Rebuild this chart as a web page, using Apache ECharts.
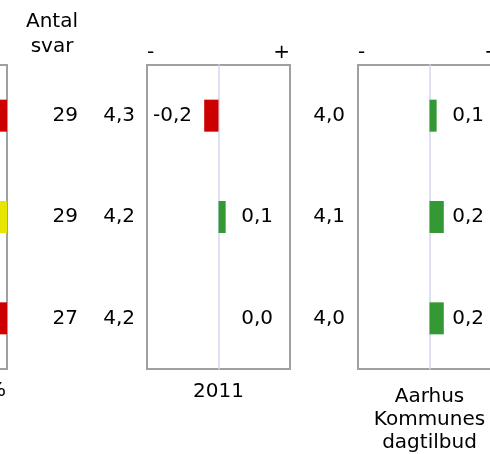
<!DOCTYPE html>
<html>
<head>
<meta charset="utf-8">
<script src="https://cdn.jsdelivr.net/npm/echarts@6/dist/echarts.min.js"></script>
<style>
  html, body { margin: 0; padding: 0; background: #fff; }
  #main { width: 490px; height: 454px; }
</style>
</head>
<body>
<div id="main"></div>
<script>
// data
const rows = ['Spm 1', 'Spm 2', 'Spm 3'];
const counts = [29, 29, 27];
const score2012 = [4.3, 4.2, 4.2];
const diff2011 = [-0.2, 0.1, 0.0];
const scoreAarhus = [4.0, 4.1, 4.0];
const diffAarhus = [0.1, 0.2, 0.2];
// left panel (only the right end is visible)
const shareGreen = [55, 60, 50];
const shareYellow = [30, 40, 35];
const shareRed = [15, 0, 15];
const panelNames = ['Andel i %', '2011', 'Aarhus\nKommunes\ndagtilbud'];

const FONT = 'DejaVu Sans, Verdana, sans-serif';
const frame = '#a0a0a0';
const zeroColor = '#d6d6f2';
const RED = '#cc0000', GREEN = '#349934', YELLOW = '#e6e600';

function fmt(v) { return v.toFixed(1).replace('.', ','); }

function diffBar(vals, xi, yi) {
  return {
    type: 'bar', xAxisIndex: xi, yAxisIndex: yi, barWidth: 32, barGap: '-100%',
    data: vals.map(v => ({ value: v, itemStyle: { color: v < 0 ? RED : GREEN } })),
    silent: true
  };
}
// transparent bar that carries the value label at a fixed place in the panel
function labelBar(vals, xi, yi) {
  return {
    type: 'bar', xAxisIndex: xi, yAxisIndex: yi, barWidth: 32, barGap: '-100%',
    silent: true,
    data: vals.map(v => ({
      value: v < 0 ? -1 : 1,
      itemStyle: { color: 'rgba(0,0,0,0)' },
      label: {
        show: true,
        position: v < 0 ? 'insideLeft' : 'insideRight',
        distance: v < 0 ? 6 : 17,
        formatter: () => fmt(v),
        color: '#000', fontFamily: FONT, fontSize: 20
      }
    }))
  };
}
function topAxis(gi) {
  return {
    type: 'value', gridIndex: gi, position: 'top', min: -1, max: 1, interval: 1,
    axisLine: { show: false }, axisTick: { show: false }, splitLine: { show: false },
    axisLabel: {
      margin: 2, color: '#000', fontFamily: FONT, fontSize: 20,
      alignMinLabel: 'left', alignMaxLabel: 'right',
      formatter: v => v < 0 ? '-' : (v > 0 ? '+' : '')
    }
  };
}
function bottomAxis(gi, name, gap) {
  return {
    type: 'value', gridIndex: gi, position: 'bottom', min: -1, max: 1,
    axisLine: { show: false }, axisTick: { show: false }, splitLine: { show: false },
    axisLabel: { show: false },
    name: name, nameLocation: 'middle', nameGap: gap,
    nameTextStyle: { color: '#000', fontFamily: FONT, fontSize: 20, lineHeight: 23 }
  };
}
function zeroAxis(gi) {
  return {
    type: 'category', gridIndex: gi, data: rows, inverse: true,
    axisLine: { onZero: true, lineStyle: { color: zeroColor, width: 1.5 } },
    axisTick: { show: false }, axisLabel: { show: false }, splitLine: { show: false }
  };
}
function labelAxis(gi, vals, offset, margin, isCount) {
  return {
    type: 'category', gridIndex: gi, data: rows, inverse: true, position: 'left', offset: offset,
    axisLine: { show: false, onZero: false }, axisTick: { show: false },
    axisLabel: {
      margin: margin, color: '#000', fontFamily: FONT, fontSize: 20,
      formatter: (v, i) => isCount ? String(vals[i]) : fmt(vals[i])
    }
  };
}

const gridStyle = {
  show: true, borderColor: frame, borderWidth: 2, backgroundColor: 'transparent',
  containLabel: false, outerBoundsMode: 'none'
};

const option = {
  animation: false,
  textStyle: { fontFamily: FONT },
  grid: [
    Object.assign({ left: -136, top: 65, width: 143, height: 304 }, gridStyle),
    Object.assign({ left: 147, top: 65, width: 143, height: 304 }, gridStyle),
    Object.assign({ left: 358, top: 65, width: 143, height: 304 }, gridStyle)
  ],
  xAxis: [
    { type: 'value', gridIndex: 0, min: 0, max: 100, show: false },
    topAxis(1), bottomAxis(1, panelNames[1], 11),
    topAxis(2), bottomAxis(2, panelNames[2], 16)
  ],
  yAxis: [
    { type: 'category', gridIndex: 0, data: rows, inverse: true, show: false },
    zeroAxis(1),
    labelAxis(1, score2012, 0, 12, false),
    labelAxis(1, counts, 57, 12, true),
    zeroAxis(2),
    labelAxis(2, scoreAarhus, 0, 13, false)
  ],
  graphic: [
    { type: 'text', x: 52, y: 9, style: { text: 'Antal\nsvar', fill: '#000', font: '20px ' + FONT, lineHeight: 25, align: 'center', verticalAlign: 'top' } },
    { type: 'text', x: 6, y: 381, style: { text: panelNames[0], fill: '#000', font: '20px ' + FONT, align: 'right', verticalAlign: 'top' } }
  ],
  series: [
    { type: 'bar', stack: 'a', xAxisIndex: 0, yAxisIndex: 0, barWidth: 32, data: shareGreen, itemStyle: { color: GREEN } },
    { type: 'bar', stack: 'a', xAxisIndex: 0, yAxisIndex: 0, barWidth: 32, data: shareYellow, itemStyle: { color: YELLOW } },
    { type: 'bar', stack: 'a', xAxisIndex: 0, yAxisIndex: 0, barWidth: 32, data: shareRed, itemStyle: { color: RED } },
    labelBar(diff2011, 1, 1),
    diffBar(diff2011, 1, 1),
    labelBar(diffAarhus, 3, 4),
    diffBar(diffAarhus, 3, 4)
  ]
};

const chart = echarts.init(document.getElementById('main'), null, { renderer: 'canvas' });
chart.setOption(option);
</script>
</body>
</html>
